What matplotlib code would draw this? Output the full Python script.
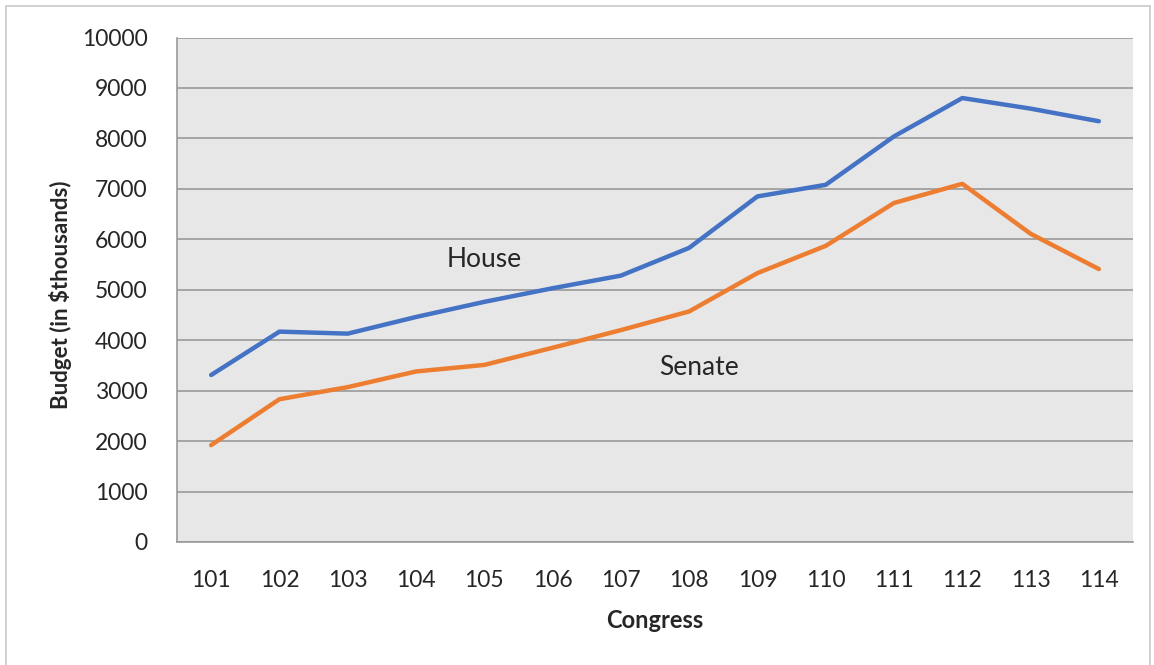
import matplotlib.pyplot as plt
from matplotlib.patches import Rectangle

# Congress sessions and budget in $ thousands
congress = ['101', '102', '103', '104', '105', '106', '107',
            '108', '109', '110', '111', '112', '113', '114']
house = [3310, 4170, 4130, 4460, 4760, 5030, 5280,
         5830, 6850, 7080, 8040, 8800, 8590, 8340]
senate = [1920, 2830, 3070, 3380, 3510, 3850, 4200,
          4570, 5330, 5870, 6720, 7100, 6110, 5410]

plt.rcParams['font.family'] = ['Lato', 'DejaVu Sans']

W, H = 1154, 665
fig = plt.figure(figsize=(W / 100, H / 100), dpi=100)
fig.patches.append(Rectangle((6 / W, -0.01), 1144 / W, 1.0 - 6 / H + 0.01,
                             transform=fig.transFigure, fill=False,
                             edgecolor='#c8c8c8', linewidth=1.2))

ax = fig.add_axes([177 / W, 1 - 542 / H, (1133 - 177) / W, (542 - 37.5) / H])
ax.set_facecolor('#e7e7e7')

x = list(range(len(congress)))
ax.plot(x, house, color='#4472c4', linewidth=3.2, solid_capstyle='round')
ax.plot(x, senate, color='#ed7d31', linewidth=3.2, solid_capstyle='round')

ax.text(4, 5600, 'House', fontsize=19, color='#262626', ha='center', va='center')
ax.text(7.15, 3460, 'Senate', fontsize=19, color='#262626', ha='center', va='center')

ax.set_xlim(-0.5, len(congress) - 0.5)
ax.set_ylim(0, 10000)
ax.set_yticks(range(0, 10001, 1000))
ax.set_xticks(x)
ax.set_xticklabels(congress)
ax.tick_params(axis='both', length=0, labelsize=16.5, colors='#262626')
ax.tick_params(axis='y', pad=21)
ax.tick_params(axis='x', pad=20)

ax.grid(axis='y', color='#9a9a9a', linewidth=1.2)
ax.set_axisbelow(True)
for side in ['top', 'right']:
    ax.spines[side].set_visible(False)
for side in ['left', 'bottom']:
    ax.spines[side].set_color('#9a9a9a')
    ax.spines[side].set_linewidth(1.2)

ax.set_xlabel('Congress', fontsize=17, fontweight='bold', color='#262626')
ax.set_ylabel('Budget (in $thousands)', fontsize=16, fontweight='bold', color='#262626')
ax.xaxis.set_label_coords(0.5, -0.133)
ax.yaxis.set_label_coords(-0.110, 0.49)

fig.savefig('out.png', dpi=100)
